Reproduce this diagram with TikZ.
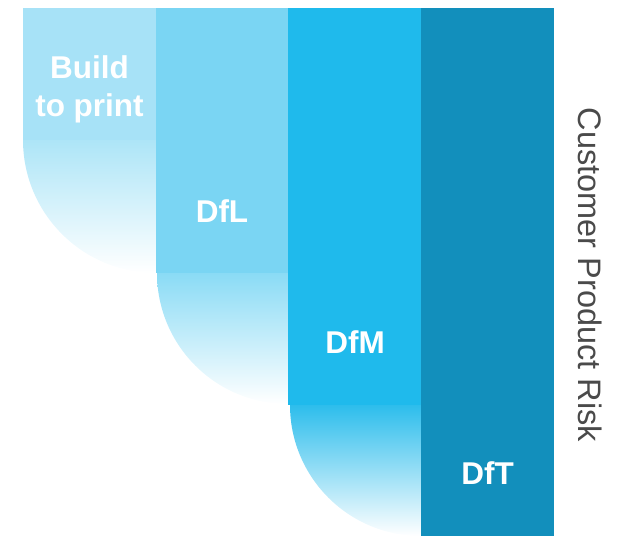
\documentclass[tikz,border=0pt]{standalone}
\usepackage{fontspec}
\setmainfont{Liberation Sans}
\definecolor{cA}{HTML}{A7E2F7}
\definecolor{cB}{HTML}{7AD5F3}
\definecolor{cC}{HTML}{1FBAEC}
\definecolor{cD}{HTML}{128FBC}
\definecolor{cAs}{HTML}{ADE5F7}
\definecolor{cBs}{HTML}{8ADBF5}
\definecolor{cCs}{HTML}{2DBDEC}
\definecolor{risk}{HTML}{4A4A4A}
\tikzset{
  lbl/.style={text=white, font=\bfseries\fontsize{31.5}{38}\selectfont, align=center},
  sidelbl/.style={text=risk, font=\fontsize{32.5}{38}\selectfont, rotate=-90}
}
\begin{document}
\begin{tikzpicture}[x=1pt,y=1pt]
\useasboundingbox (0,0) rectangle (617,536);
% quarter discs (fading)
\shade[top color=cAs, bottom color=white] (156,396) -- (23,396) arc[start angle=180, end angle=270, radius=133] -- cycle;
\shade[top color=cBs, bottom color=white] (288,263) -- (157,263) arc[start angle=180, end angle=270, radius=131] -- cycle;
\shade[top color=cCs, bottom color=white] (421,131) -- (290,131) arc[start angle=180, end angle=270, radius=131] -- cycle;
% columns
\fill[cA] (23,528) rectangle (156,396);
\fill[cB] (156,528) rectangle (288,263);
\fill[cC] (288,528) rectangle (421,131);
\fill[cD] (421,528) rectangle (554,0);
% labels
\node[lbl] (btp) at (89.5,447) {Build\\to print};
\node[lbl, anchor=base] (dfl) at (222,314) {DfL};
\node[lbl, anchor=base] (dfm) at (355,183) {DfM};
\node[lbl, anchor=base] (dft) at (487.5,52) {DfT};
\node[sidelbl] (risk) at (590,261) {Customer Product Risk};
\end{tikzpicture}
\end{document}
